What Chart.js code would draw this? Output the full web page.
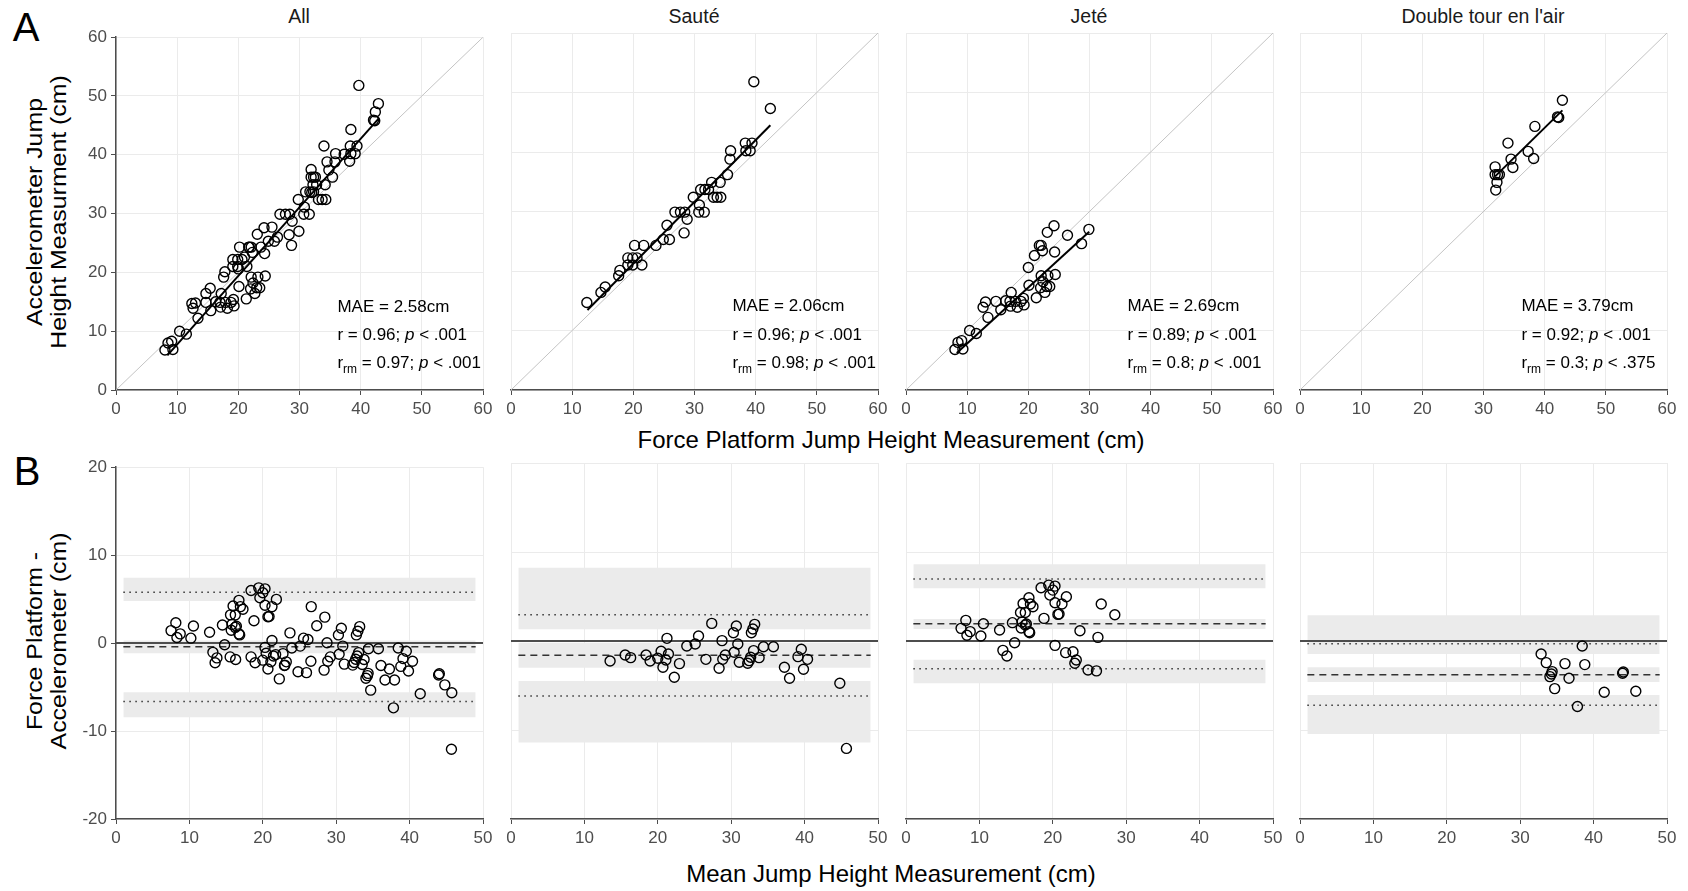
<!DOCTYPE html>
<html lang="en">
<head>
<meta charset="UTF-8">
<title>Accelerometer vs Force Platform Jump Height</title>
<script src="https://cdn.jsdelivr.net/npm/chart.js"></script>
<style>
  body { margin: 0; background: #fff; font-family: "Liberation Sans", Arial, sans-serif; }
  #wrap { position: relative; width: 1688px; height: 891px; overflow: hidden; }
  .panel { position: absolute; }
  .lbl { position: absolute; white-space: nowrap; line-height: 1; transform: translate(-50%, -50%); }
  .ptitle { font-size: 19.5px; color: #1a1a1a; }
  .axtitle { font-size: 24px; color: #000; }
  .ytitle { font-size: 22px; color: #000; text-align: center; line-height: 24px;
            transform: translate(-50%, -50%) rotate(-90deg) scaleX(1.13); }
  .tag { font-size: 40px; color: #000; }
</style>
</head>
<body>
<div id="wrap">
  <div class="lbl tag" style="left:26px; top:27px;">A</div>
  <div class="lbl tag" style="left:27px; top:471px;">B</div>

  <div class="lbl ptitle" style="left:299px; top:17px;">All</div>
  <div class="lbl ptitle" style="left:694px; top:17px;">Sauté</div>
  <div class="lbl ptitle" style="left:1089px; top:17px;">Jeté</div>
  <div class="lbl ptitle" style="left:1483px; top:17px;">Double tour en l'air</div>

  <div class="lbl ytitle" style="left:47px; top:212px;">Accelerometer Jump<br>Height Measurment (cm)</div>
  <div class="lbl ytitle" style="left:47px; top:641px;">Force Platform -<br>Accelerometer (cm)</div>

  <div class="lbl axtitle" style="left:891px; top:440px;">Force Platform Jump Height Measurement (cm)</div>
  <div class="lbl axtitle" style="left:891px; top:874px;">Mean Jump Height Measurement (cm)</div>
</div>

<script>
// ---- data ----
// top row: [force platform, accelerometer]
const sauteTop = [[12.4,14.7],[14.7,16.4],[15.4,17.3],[17.6,19.2],[17.8,20.1],[19.1,21.0],[19.1,22.2],[19.9,22.2],
  [19.9,21.0],[20.6,22.2],[20.2,24.3],[21.4,21.0],[21.7,24.3],[23.7,24.3],[24.9,25.3],[25.9,25.3],[25.5,27.7],
  [26.8,29.9],[27.7,29.9],[28.4,29.9],[28.8,28.7],[28.3,26.4],[29.8,32.4],[30.8,31.1],[30.7,29.9],[31.6,29.9],
  [31.0,33.7],[31.7,33.7],[32.3,33.7],[32.8,34.9],[33.1,32.4],[33.7,32.4],[34.3,32.4],[34.2,34.9],[35.4,36.2],
  [35.8,38.8],[35.9,40.2],[38.3,41.5],[38.4,40.2],[39.1,40.2],[39.4,41.5],[39.7,51.8],[42.4,47.3]];
const jeteTop = [[8.0,6.8],[8.5,8.0],[9.1,8.3],[9.3,6.9],[10.4,10.0],[11.5,9.5],[12.6,13.9],[13.0,14.8],[13.4,12.2],
  [14.7,14.9],[15.5,13.5],[16.3,15.0],[17.0,14.9],[17.2,16.4],[17.1,14.1],[17.9,14.9],[18.2,13.9],[18.8,14.9],
  [19.2,15.4],[19.3,14.3],[20.1,17.6],[20.0,20.6],[21.0,22.6],[21.3,15.5],[21.8,24.3],[22.1,24.3],[22.3,23.4],
  [22.1,19.2],[22.4,18.2],[22.0,17.2],[22.7,16.4],[23.0,17.4],[23.5,17.4],[23.2,19.2],[23.1,26.5],[24.2,27.6],
  [24.3,23.2],[24.4,19.4],[26.4,26.0],[28.7,24.6],[29.9,27.0]];
const doubleTop = [[31.9,37.5],[31.9,36.2],[32.3,36.2],[32.6,36.2],[32.2,34.9],[32.0,33.6],[34.0,41.5],[34.5,38.8],
  [34.8,37.4],[37.3,40.1],[38.2,38.9],[38.4,44.3],[42.1,45.9],[42.3,45.8],[42.9,48.7]];

// bottom row: [mean, force platform - accelerometer]
const sauteBA = [[13.5,-2.24],[15.55,-1.57],[16.3,-1.87],[18.4,-1.57],[18.95,-2.24],[20.0,-1.94],[20.45,-1.16],
  [20.7,-2.95],[21.1,-2.13],[21.45,-1.46],[21.25,0.30],[22.25,-4.07],[22.95,-2.54],[23.95,-0.56],[25.1,-0.34],
  [25.55,0.56],[26.55,-2.06],[27.35,1.98],[28.35,-3.07],[28.75,0.04],[28.85,-2.06],[29.2,-1.57],[30.3,0.93],
  [30.4,-1.27],[30.7,1.68],[30.9,-0.34],[31.1,-2.39],[32.25,-2.50],[32.45,-2.21],[32.65,-1.83],[32.75,0.93],
  [32.95,1.35],[33.2,1.87],[33.05,-1.08],[33.8,-1.87],[34.4,-0.64],[35.75,-0.64],[37.25,-2.95],[37.95,-4.19],
  [39.1,-1.76],[39.55,-0.93],[39.85,-3.18],[40.4,-2.06],[44.8,-4.75],[45.7,-12.07]];
const jeteBA = [[7.5,1.42],[8.15,2.32],[8.3,0.64],[8.75,1.05],[10.2,0.56],[10.55,1.94],[12.75,1.23],[13.2,-1.05],
  [13.75,-1.68],[14.5,2.06],[14.8,-0.19],[15.6,3.21],[15.7,1.46],[15.8,2.13],[15.95,4.22],[16.25,3.21],[16.25,1.79],
  [16.4,1.91],[16.75,4.86],[16.75,1.05],[16.85,0.93],[16.95,4.15],[17.3,3.85],[18.4,5.98],[18.8,2.54],[19.45,6.28],
  [19.6,5.16],[20.0,5.72],[20.3,6.17],[20.3,4.30],[20.3,-0.49],[20.7,2.99],[20.85,3.03],[21.25,4.15],[21.85,4.97],
  [21.75,-1.31],[22.75,-1.20],[23.2,-2.13],[23.0,-2.50],[23.7,1.16],[24.8,-3.25],[25.95,-3.36],[26.15,0.41],
  [26.6,4.15],[28.45,2.95]];
const doubleBA = [[32.85,-1.46],[33.55,-2.43],[34.35,-3.44],[34.25,-3.70],[34.05,-4.0],[34.7,-5.35],[36.1,-2.54],
  [36.65,-4.19],[37.8,-7.36],[38.45,-0.56],[38.8,-2.65],[41.45,-5.76],[43.95,-3.63],[44.05,-3.48],[45.75,-5.64]];

// regression line ends per panel (All, Sauté, Jeté, Double)
const fitX = [[8.4, 42.9], [12.5, 42.4], [8.3, 29.95], [31.9, 42.9]];
const fitY = [[5.9, 46.1], [13.45, 44.5], [6.2, 26.6], [35.9, 47.0]];

// stats text
const maeVals = ['2.58', '2.06', '2.69', '3.79'];
const rVals = ['0.96', '0.96', '0.89', '0.92'];
const rP = ['.001', '.001', '.001', '.001'];
const rrmVals = ['0.97', '0.98', '0.8', '0.3'];
const rrmP = ['.001', '.001', '.001', '.375'];

// Bland-Altman: bias, limits of agreement, and their shaded intervals
const bias = [-0.41, -1.61, 1.95, -3.78];
const loaUp = [5.77, 2.96, 6.97, -0.30];
const loaLow = [-6.63, -6.18, -3.11, -7.23];
const biasBand = [[-1.15, 0.3], [-3.0, -0.19], [1.35, 2.47], [-4.61, -2.96]];
const upBand = [[4.8, 7.42], [1.31, 8.23], [5.92, 8.62], [-1.46, 2.89]];
const lowBand = [[-8.43, -5.58], [-11.4, -4.49], [-4.75, -2.1], [-10.45, -6.07]];

const topSets = [sauteTop.concat(jeteTop, doubleTop), sauteTop, jeteTop, doubleTop];
const baSets = [sauteBA.concat(jeteBA, doubleBA), sauteBA, jeteBA, doubleBA];

// ---- drawing ----
const FONT = "'Liberation Sans', Arial, sans-serif";
const colLefts = [116, 511, 906, 1300];
const plotW = 367;

const pts = arr => arr.map(p => ({ x: p[0], y: p[1] }));
const seg = (x0, x1, y0, y1) => [{ x: x0, y: y0 }, { x: x1, y: y1 }];

// writes the MAE / r / r_rm lines inside the top panels
const statsPlugin = {
  id: 'stats',
  afterDatasetsDraw(chart, args, opts) {
    if (!opts.lines) return;
    const ctx = chart.ctx, xs = chart.scales.x, ys = chart.scales.y;
    ctx.save();
    ctx.fillStyle = '#000';
    ctx.textBaseline = 'middle';
    ctx.textAlign = 'left';
    opts.lines.forEach(line => {
      let cx = xs.getPixelForValue(opts.x);
      const cy = ys.getPixelForValue(line.y);
      line.runs.forEach(r => {
        const size = r.sub ? 12 : 17;
        ctx.font = (r.it ? 'italic ' : '') + size + 'px ' + FONT;
        ctx.fillText(r.t, cx, cy + (r.sub ? 6 : 0));
        cx += ctx.measureText(r.t).width;
      });
    });
    ctx.restore();
  }
};

function axis(min, max, show, isX, fixed) {
  return {
    type: 'linear', min: min, max: max,
    ticks: { display: show, stepSize: 10, color: '#4d4d4d', padding: 4, maxRotation: 0, autoSkip: false,
             font: { family: FONT, size: 17 } },
    grid: { color: '#ebebeb', lineWidth: 1, tickColor: '#4d4d4d', tickLength: show ? 5 : 0, drawTicks: show },
    border: { display: show, color: '#4d4d4d', width: 1.5 },
    afterFit: s => { if (isX) s.height = fixed; else s.width = fixed; }
  };
}

function panel(col, top, plotH, xMax, yMin, yMax, datasets, stats) {
  const showY = col === 0;
  const yW = showY ? 52 : 0;
  const padL = showY ? 0 : 12, padT = 10, padR = 14, xH = 34;
  const w = padL + yW + plotW + padR, h = padT + plotH + xH;
  const box = document.createElement('div');
  box.className = 'panel';
  box.style.left = (colLefts[col] - yW - padL) + 'px';
  box.style.top = (top - padT) + 'px';
  box.style.width = w + 'px';
  box.style.height = h + 'px';
  const cv = document.createElement('canvas');
  cv.width = w;
  cv.height = h;
  box.appendChild(cv);
  document.getElementById('wrap').appendChild(box);

  new Chart(cv, {
    type: 'scatter',
    data: { datasets: datasets },
    plugins: [statsPlugin],
    options: {
      responsive: false,
      animation: false,
      events: [],
      layout: { padding: { left: padL, top: padT, right: padR, bottom: 0 } },
      plugins: { legend: { display: false }, tooltip: { enabled: false }, stats: stats || {} },
      scales: { x: axis(0, xMax, true, true, xH), y: axis(yMin, yMax, showY, false, yW) }
    }
  });
}

const circles = data => ({
  data: pts(data), pointRadius: 5, pointStyle: 'circle', backgroundColor: 'rgba(0,0,0,0)',
  borderColor: '#000', borderWidth: 1.4, showLine: false
});
const line = (data, color, width, dash) => ({
  data: data, showLine: true, borderColor: color, borderWidth: width, borderDash: dash || [],
  pointRadius: 0, fill: false
});
const band = (lo, hi) => [
  { data: seg(1, 49, lo, lo), showLine: true, borderWidth: 0, pointRadius: 0, fill: false },
  { data: seg(1, 49, hi, hi), showLine: true, borderWidth: 0, pointRadius: 0, fill: '-1', backgroundColor: '#ebebeb' }
];

for (let i = 0; i < 4; i++) {
  // row A: agreement scatter
  panel(i, 33, 357, 60, 0, 60, [
    circles(topSets[i]),
    line(seg(fitX[i][0], fitX[i][1], fitY[i][0], fitY[i][1]), '#000', 2),
    line(seg(0, 60, 0, 60), '#c4c4c4', 1)
  ], {
    x: 36.2,
    lines: [
      { y: 14.1, runs: [{ t: 'MAE = ' + maeVals[i] + 'cm' }] },
      { y: 9.25, runs: [{ t: 'r = ' + rVals[i] + '; ' }, { t: 'p', it: true }, { t: ' < ' + rP[i] }] },
      { y: 4.5, runs: [{ t: 'r' }, { t: 'rm', sub: true }, { t: ' = ' + rrmVals[i] + '; ' }, { t: 'p', it: true }, { t: ' < ' + rrmP[i] }] }
    ]
  });

  // row B: Bland-Altman
  panel(i, 463, 356, 50, -20, 20, [
    circles(baSets[i]),
    line(seg(0, 50, 0, 0), '#4d4d4d', 2),
    line(seg(1, 49, bias[i], bias[i]), '#333', 1.5, [7, 5]),
    line(seg(1, 49, loaUp[i], loaUp[i]), '#333', 1.5, [1.5, 4.5]),
    line(seg(1, 49, loaLow[i], loaLow[i]), '#333', 1.5, [1.5, 4.5])
  ].concat(band(biasBand[i][0], biasBand[i][1]), band(upBand[i][0], upBand[i][1]), band(lowBand[i][0], lowBand[i][1])));
}
</script>
</body>
</html>
